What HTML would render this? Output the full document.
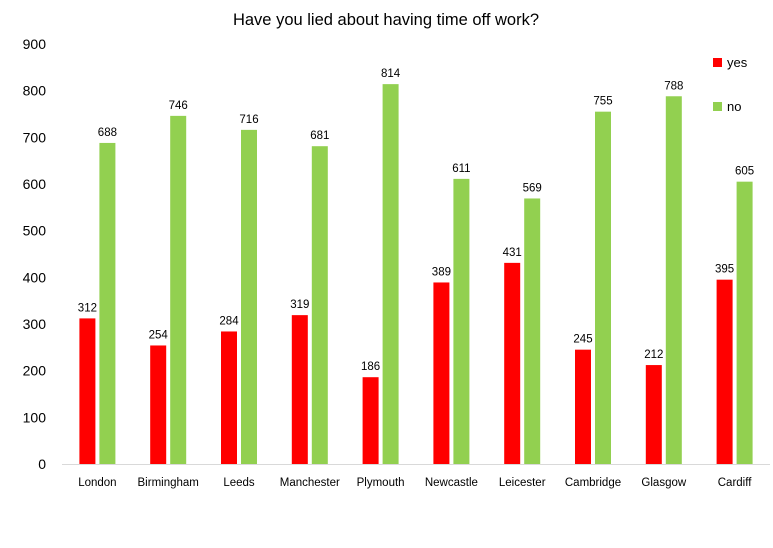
<!DOCTYPE html>
<html><head><meta charset="utf-8"><style>
body{margin:0;background:#fff;}
svg{font-family:"Liberation Sans",sans-serif;}
</style></head><body>
<svg id="chart" width="773" height="543">
<text x="386" y="25" text-anchor="middle" font-size="16.5" fill="#000">Have you lied about having time off work?</text>
<g id="yaxis"></g>
<g id="bars"></g>
<g id="xaxis"></g>
<g>
<rect x="713" y="58" width="9" height="9" fill="#ff0000"/>
<text x="727" y="67" font-size="13">yes</text>
<rect x="713" y="102" width="9" height="9" fill="#92d050"/>
<text x="727" y="111" font-size="13">no</text>
</g>
</svg>
<script>
const categories=["London","Birmingham","Leeds","Manchester","Plymouth","Newcastle","Leicester","Cambridge","Glasgow","Cardiff"];
const yesValues=[312,254,284,319,186,389,431,245,212,395];
const noValues=[688,746,716,681,814,611,569,755,788,605];
const yTicks=[0,100,200,300,400,500,600,700,800,900];
const ns="http://www.w3.org/2000/svg";
const x0=62,x1=770,yBase=464,yTop=44,yMax=900;
const band=(x1-x0)/categories.length;
function y(v){return yBase-(v/yMax)*(yBase-yTop);}
function xc(i){return x0+band*(i+0.5);}
function mk(tag,attrs,parent){const e=document.createElementNS(ns,tag);for(const k in attrs)e.setAttribute(k,attrs[k]);parent.appendChild(e);return e;}
const ya=document.getElementById('yaxis'),bars=document.getElementById('bars'),xa=document.getElementById('xaxis');
yTicks.forEach(t=>{
 const tx=mk('text',{x:46,y:y(t)+5,'text-anchor':'end','font-size':14,fill:'#000'},ya);
 tx.textContent=t;
 
 
});
const ax=mk('line',{x1:x0,x2:x1,y1:yBase+0.5,y2:yBase+0.5,stroke:'#d9d9d9'},xa);


const bw=16,gap=4;
categories.forEach((c,i)=>{
 const cx=xc(i);
 const series=[[yesValues[i],'#ff0000',cx-gap/2-bw,'yes'],[noValues[i],'#92d050',cx+gap/2,'no']];
 series.forEach(([v,col,bx,s])=>{
  const r=mk('rect',{x:bx,y:y(v),width:bw,height:yBase-y(v),fill:col},bars);
  
  
  const l=mk('text',{x:bx+bw/2,y:y(v)-7,'text-anchor':'middle','font-size':11.5,fill:'#000'},bars);
  l.textContent=v;
  
  
 });
 const t=mk('text',{x:cx,y:486,'text-anchor':'middle','font-size':11.5,fill:'#000'},xa);
 t.textContent=c;
 
 
});
</script>
</body></html>
